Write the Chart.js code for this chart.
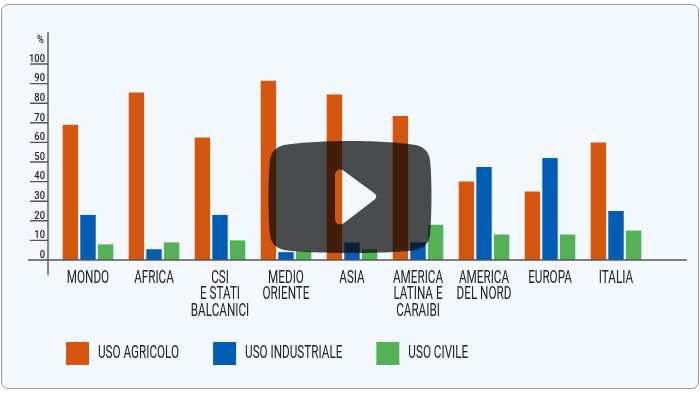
<!DOCTYPE html>
<html><head><meta charset="utf-8">
<script src="https://cdn.jsdelivr.net/npm/chart.js@4"></script>
<style>
html,body{margin:0;padding:0;background:#fff;width:700px;height:394px;overflow:hidden}
#panel{position:absolute;left:1px;top:4px;width:696px;height:383px;background:#f3f8fd;border:1px solid #9a9a9a;border-radius:7px}
#wrap{position:absolute;left:0;top:0;width:700px;height:394px}
#play{position:absolute;left:0;top:0;width:700px;height:394px;pointer-events:none}
</style></head><body>
<div id="panel"></div>
<div id="wrap"><canvas id="c" width="700" height="394"></canvas></div>
<svg id="play" width="700" height="394" viewBox="0 0 700 394">
<path fill="#080808" fill-opacity="0.72" fill-rule="evenodd" d="M350 141C378 141 404 143 416 145C424 147 429 152 430 160C432 178 432 216 430 235C429 243 424 248 416 250C404 252 378 253 350 253C322 253 296 252 284 250C276 248 271 243 270 235C268 216 268 178 270 160C271 152 276 147 284 145C296 143 322 141 350 141ZM335 176C335 170 340 168 344 171L374 193C377 195 377 198 374 200L344 223C340 226 335 224 335 219Z"/>
</svg>
<script>
const categories=[["MONDO"],["AFRICA"],["CSI","E STATI","BALCANICI"],["MEDIO","ORIENTE"],["ASIA"],["AMERICA","LATINA E","CARAIBI"],["AMERICA","DEL NORD"],["EUROPA"],["ITALIA"]];
const usoAgricolo=[69,85.5,62.5,91.5,84.5,73.5,40,35,60];
const usoIndustriale=[23,5.5,23,4,9,9,47.5,52,25];
const usoCivile=[8,9,10,4.5,5.5,18,13,13,15];
const yTicks=[0,10,20,30,40,50,60,70,80,90,100];
const unitLabel="%";

// The reference uses a condensed face that is not installed: squeeze Roboto horizontally.
const canvas=document.getElementById('c');
const g=canvas.getContext('2d');
const rawFill=g.fillText.bind(g),rawMeasure=g.measureText.bind(g);
const squeeze=()=>g.font.indexOf('500')===0?0.85:0.65;
g.measureText=t=>({width:rawMeasure(t).width*squeeze()});
g.fillText=(t,x,y)=>rawFill(t,x,y,rawMeasure(t).width*squeeze());

const axes={id:'axes',
 afterLayout(ch){ch.legend.left=32;ch.legend.top=308;},
 afterDatasetsDraw(ch){
  const c=ch.ctx,y=ch.scales.y,a=ch.chartArea;
  c.save();c.strokeStyle='#555';c.lineWidth=1.4;
  const L=a.left-7;
  c.beginPath();
  c.moveTo(L,a.top-32);c.lineTo(L,a.bottom+15);
  c.moveTo(a.left-27,a.bottom);c.lineTo(a.right+38,a.bottom);
  yTicks.forEach(v=>{if(v>0){const p=y.getPixelForValue(v);c.moveTo(a.left-25,p);c.lineTo(L,p);}});
  c.stroke();
  c.fillStyle='#222';c.font='500 11px Roboto';c.textAlign='right';c.textBaseline='middle';
  c.fillText(unitLabel,a.left-11,a.top-24);
  c.restore();
}};
new Chart(canvas,{
  type:'bar',
  data:{labels:categories,datasets:[
    {label:'USO AGRICOLO',data:usoAgricolo,backgroundColor:'#d4560f'},
    {label:'USO INDUSTRIALE',data:usoIndustriale,backgroundColor:'#015eb4'},
    {label:'USO CIVILE',data:usoCivile,backgroundColor:'#55b156'}
  ]},
  plugins:[axes],
  options:{
    responsive:false,animation:false,
    layout:{padding:{left:29,right:51,top:64,bottom:5}},
    datasets:{bar:{categoryPercentage:0.8,barPercentage:0.875}},
    plugins:{
      tooltip:{enabled:false},
      legend:{position:'bottom',align:'start',
        labels:{boxWidth:23,boxHeight:23,padding:34,color:'#222',font:{family:'Roboto',size:18}}}
    },
    scales:{
      x:{grid:{display:false},border:{display:false},
        afterFit(s){s.height=62;},
        ticks:{color:'#222',padding:2,maxRotation:0,autoSkip:false,font:{family:'Roboto',size:18,lineHeight:0.92}}},
      y:{min:0,max:100,grid:{display:false},border:{display:false},
        afterFit(s){s.width=26;},
        afterBuildTicks(s){s.ticks=yTicks.map(v=>({value:v}));},
        ticks:{color:'#222',padding:2,labelOffset:-5,font:{family:'Roboto',size:11,weight:'500'}}}
    }
  }
});
</script>
</body></html>
